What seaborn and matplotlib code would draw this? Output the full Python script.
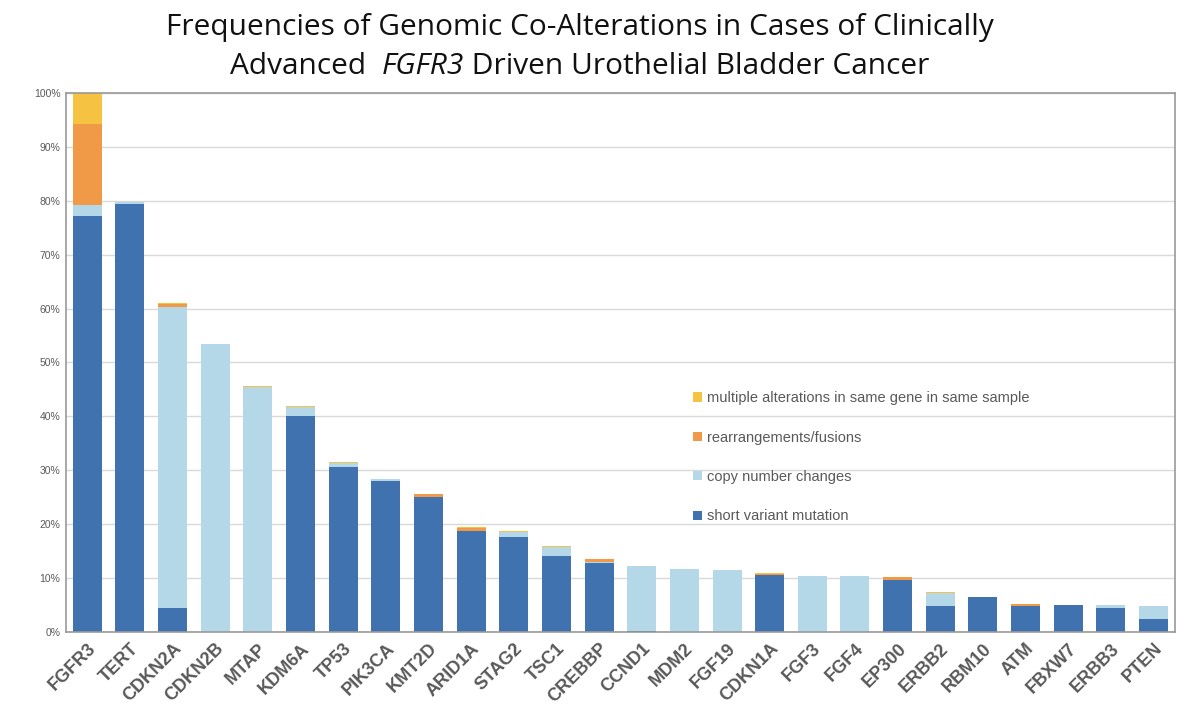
import seaborn as sns
import matplotlib.pyplot as plt
import pandas as pd
import numpy as np

sns.set_style('white')
plt.rcParams['font.family'] = ['Liberation Sans', 'DejaVu Sans']

genes = ['FGFR3', 'TERT', 'CDKN2A', 'CDKN2B', 'MTAP', 'KDM6A', 'TP53', 'PIK3CA',
         'KMT2D', 'ARID1A', 'STAG2', 'TSC1', 'CREBBP', 'CCND1', 'MDM2', 'FGF19',
         'CDKN1A', 'FGF3', 'FGF4', 'EP300', 'ERBB2', 'RBM10', 'ATM', 'FBXW7',
         'ERBB3', 'PTEN']

# percent of cases, per alteration type
short_variant = [77.2, 79.5, 4.4, 0.0, 0.0, 40.0, 30.6, 27.9, 25.0, 18.7, 17.6, 14.0, 12.7,
                 0.2, 0.0, 0.0, 10.6, 0.0, 0.0, 9.6, 4.7, 6.4, 4.8, 5.0, 4.5, 2.3]
copy_number = [2.1, 0.2, 55.9, 53.4, 45.5, 1.8, 0.8, 0.4, 0.0, 0.0, 1.0, 1.8, 0.3,
               12.0, 11.6, 11.4, 0.0, 10.4, 10.4, 0.0, 2.5, 0.0, 0.0, 0.0, 0.5, 2.5]
rearrangement = [15.0, 0.0, 0.6, 0.0, 0.0, 0.0, 0.0, 0.0, 0.6, 0.6, 0.0, 0.0, 0.5,
                 0.0, 0.0, 0.0, 0.2, 0.0, 0.0, 0.6, 0.0, 0.0, 0.3, 0.0, 0.0, 0.0]
multiple = [5.7, 0.0, 0.2, 0.0, 0.2, 0.2, 0.2, 0.1, 0.0, 0.2, 0.1, 0.2, 0.0,
            0.0, 0.0, 0.0, 0.1, 0.0, 0.0, 0.0, 0.2, 0.0, 0.1, 0.0, 0.0, 0.0]

series = ['short variant mutation', 'copy number changes', 'rearrangements/fusions',
          'multiple alterations in same gene in same sample']
colors = ['#3f72ae', '#b5d8e8', '#f09a48', '#f5c242']

df = pd.DataFrame({'gene': genes, series[0]: short_variant, series[1]: copy_number,
                   series[2]: rearrangement, series[3]: multiple})
cum = df[series].cumsum(axis=1)

fig, ax = plt.subplots(figsize=(12, 7.22), dpi=100)
fig.subplots_adjust(left=0.055, right=0.979, top=0.871, bottom=0.125)

# draw cumulative totals from the top layer down so they stack
for s, c in reversed(list(zip(series, colors))):
    sns.barplot(x=df['gene'], y=cum[s], color=c, width=0.68, ax=ax,
                saturation=1, label=s, linewidth=0)

ax.set_ylim(0, 100)
ax.set_xlim(-0.5, len(genes) - 0.5)
ax.set_yticks(np.arange(0, 101, 10))
ax.set_yticklabels([f'{v}%' for v in range(0, 101, 10)], fontsize=7.5, color='#595959')
ax.set_xticks(range(len(genes)))
ax.set_xticklabels(genes, rotation=45, ha='right', rotation_mode='anchor',
                   fontsize=13, fontweight='bold', color='#595959')
ax.tick_params(axis='x', length=0, pad=6)
ax.tick_params(axis='y', length=0, pad=4)
ax.set_xlabel('')
ax.set_ylabel('')
ax.yaxis.grid(True, color='#d9d9d9', linewidth=1)
ax.set_axisbelow(True)
for sp in ax.spines.values():
    sp.set_visible(True)
    sp.set_color('#999999')
    sp.set_linewidth(1.2)

handles, labels = ax.get_legend_handles_labels()
leg = ax.legend(handles, labels, loc='upper left', bbox_to_anchor=(0.554, 0.471),
                frameon=False, fontsize=10.5, labelspacing=1.74, handlelength=0.6,
                handleheight=0.6, handletextpad=0.3, labelcolor='#595959')

fig.text(0.483, 0.962, 'Frequencies of Genomic Co-Alterations in Cases of Clinically',
         ha='center', va='center', fontsize=21.5, family='Open Sans', color='#111111')

# second title line with italic gene name
parts = [('Advanced  ', 'normal'), ('FGFR3', 'italic'), (' Driven Urothelial Bladder Cancer', 'normal')]
fig.canvas.draw()
r = fig.canvas.get_renderer()
texts = []
for txt, st in parts:
    t = fig.text(0, 0.908, txt, ha='left', va='center', fontsize=21.5, family='Open Sans',
                 style=st, color='#111111')
    texts.append(t)
widths = [t.get_window_extent(r).width for t in texts]
total = sum(widths)
x = 0.483 * fig.bbox.width - total / 2
for t, w in zip(texts, widths):
    t.set_x(x / fig.bbox.width)
    x += w

fig.savefig('out.png', dpi=100)
